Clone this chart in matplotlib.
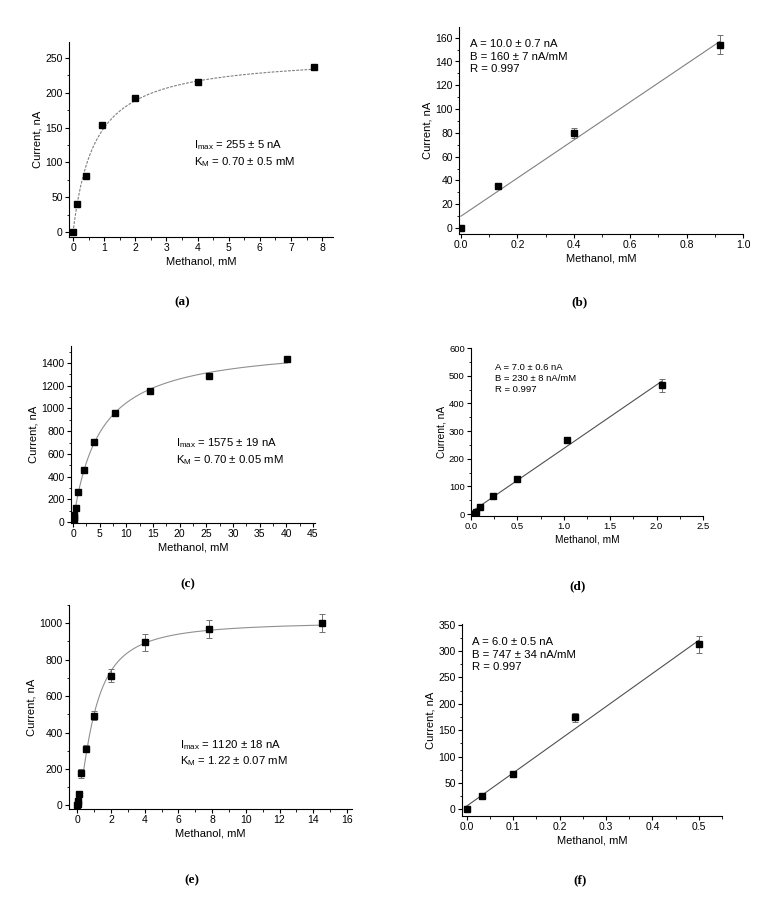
import numpy as np
import matplotlib
matplotlib.use("Agg")
import matplotlib.pyplot as plt
from matplotlib.ticker import MultipleLocator

plt.rcParams['font.family'] = ['Liberation Sans', 'DejaVu Sans']
plt.rcParams['mathtext.default'] = 'regular'

# (a) saturation curve
a_x = [0, 0.13, 0.4, 0.92, 2.0, 4.0, 7.75]
a_y = [0, 40, 80, 154, 193, 215, 237]
a_imax, a_km = 255, 0.70

# (b) linear range
b_x = [0, 0.133, 0.4, 0.92]
b_y = [0, 35, 80, 154]
b_err = [0, 2, 4, 8]
b_a, b_b = 10.0, 160

# (c) saturation curve
c_x = [0.02, 0.07, 0.15, 0.25, 0.5, 1.0, 2.0, 4.0, 7.8, 14.5, 25.5, 40.2]
c_y = [10, 20, 40, 62, 120, 268, 462, 708, 962, 1150, 1285, 1435]
c_imax, c_km_fit = 1575, 5.0

# (d) linear range
d_x = [0, 0.05, 0.1, 0.24, 0.5, 1.03, 2.06]
d_y = [2, 8, 27, 65, 125, 268, 465]
d_err = [1, 2, 3, 4, 3, 12, 24]
d_a, d_b = 7.0, 230

# (e) saturation curve
e_x = [0, 0.01, 0.05, 0.1, 0.22, 0.5, 1.0, 2.0, 4.0, 7.8, 14.5]
e_y = [0, 10, 25, 65, 176, 312, 492, 712, 895, 970, 1002]
e_err = [0, 3, 5, 5, 25, 18, 25, 35, 45, 50, 50]
e_imax_fit, e_k_fit, e_n_fit = 1010, 1.0, 1.45

# (f) linear range
f_x = [0, 0.033, 0.1, 0.233, 0.5]
f_y = [0, 25, 67, 174, 313]
f_err = [0, 2, 3, 9, 16]
f_a, f_b_fit = 6.0, 628


def style(ax, xlim, ylim, xmaj, xmin, ymaj, ymin, fs=7.5):
    ax.set_xlim(*xlim)
    ax.set_ylim(*ylim)
    ax.xaxis.set_major_locator(MultipleLocator(xmaj))
    ax.xaxis.set_minor_locator(MultipleLocator(xmin))
    ax.yaxis.set_major_locator(MultipleLocator(ymaj))
    ax.yaxis.set_minor_locator(MultipleLocator(ymin))
    ax.spines['top'].set_visible(False)
    ax.spines['right'].set_visible(False)
    for s in ['left', 'bottom']:
        ax.spines[s].set_linewidth(0.8)
    ax.tick_params(which='major', direction='out', length=3, width=0.8,
                   labelsize=fs, pad=1.5)
    ax.tick_params(which='minor', direction='out', length=1.8, width=0.6)
    ax.set_xlabel('Methanol, mM', fontsize=fs + 0.5, labelpad=2)
    ax.set_ylabel('Current, nA', fontsize=fs + 0.5, labelpad=2)


fig = plt.figure(figsize=(7.78, 8.97), dpi=100)
W, H = 778, 897


def add_axes(x0, x1, y0, y1):
    return fig.add_axes([x0 / W, 1 - y1 / H, (x1 - x0) / W, (y1 - y0) / H])


mk = dict(marker='s', color='black', markersize=4.8, linestyle='none', zorder=3)
eb = dict(ecolor='#707070', elinewidth=0.7, capsize=2, capthick=0.7)

# (a)
ax = add_axes(69, 333, 42, 237)
xs = np.linspace(0, a_x[-1], 200)
ax.plot(xs, a_imax * xs / (a_km + xs), color='#808080', lw=0.8, ls=(0, (2.5, 1.2)))
ax.plot(a_x, a_y, **mk)
style(ax, (-0.13, 8.35), (-7, 273), 1, 0.5, 50, 25)
ax.text(3.9, 113, 'I$_{max}$ = 255 ± 5 nA\nK$_{M}$ = 0.70 ± 0.5 mM',
        fontsize=8.2, va='center', linespacing=1.3)

# (b)
ax = add_axes(459, 743, 27, 234)
xs = np.array([0, b_x[-1]])
ax.plot(xs, b_a + b_b * xs, color='#808080', lw=0.8)
ax.errorbar(b_x, b_y, yerr=b_err, **mk, **eb)
style(ax, (-0.007, 1.0), (-5, 169), 0.2, 0.1, 20, 10)
ax.text(0.032, 144, 'A = 10.0 ± 0.7 nA\nB = 160 ± 7 nA/mM\nR = 0.997',
        fontsize=8.2, va='center', linespacing=1.3)

# (c)
ax = add_axes(71, 315, 346, 523)
xs = np.linspace(0, c_x[-1], 300)
ax.plot(xs, c_imax * xs / (c_km_fit + xs), color='#909090', lw=0.8)
ax.plot(c_x, c_y, **mk)
style(ax, (-0.4, 45.4), (-9, 1550), 5, 2.5, 200, 100)
ax.text(19.3, 620, 'I$_{max}$ = 1575 ± 19 nA\nK$_{M}$ = 0.70 ± 0.05 mM',
        fontsize=8.2, va='center', linespacing=1.3)

# (d)
ax = add_axes(471, 703, 348, 516)
xs = np.array([0, d_x[-1]])
ax.plot(xs, d_a + d_b * xs, color='#505050', lw=0.8)
ax.errorbar(d_x, d_y, yerr=d_err, **mk, **eb)
style(ax, (0, 2.5), (-7, 600), 0.5, 0.25, 100, 50, fs=6.8)
ax.text(0.26, 490, 'A = 7.0 ± 0.6 nA\nB = 230 ± 8 nA/mM\nR = 0.997',
        fontsize=6.8, va='center', linespacing=1.3)

# (e)
ax = add_axes(69, 352, 605, 809)
xs = np.linspace(0.35, e_x[-1], 300)
ax.plot(xs, e_imax_fit * xs ** e_n_fit / (e_k_fit ** e_n_fit + xs ** e_n_fit),
        color='#909090', lw=0.8)
ax.errorbar(e_x, e_y, yerr=e_err, **mk, **eb)
style(ax, (-0.5, 16.3), (-20, 1100), 2, 1, 200, 100)
ax.text(6.1, 287, 'I$_{max}$ = 1120 ± 18 nA\nK$_{M}$ = 1.22 ± 0.07 mM',
        fontsize=8.2, va='center', linespacing=1.3)

# (f)
ax = add_axes(462, 722, 624, 816)
xs = np.array([0, f_x[-1]])
ax.plot(xs, f_a + f_b_fit * xs, color='#505050', lw=0.8)
ax.errorbar(f_x, f_y, yerr=f_err, **mk, **eb)
style(ax, (-0.01, 0.55), (-12.7, 351), 0.1, 0.05, 50, 25)
ax.text(0.011, 293, 'A = 6.0 ± 0.5 nA\nB = 747 ± 34 nA/mM\nR = 0.997',
        fontsize=8.2, va='center', linespacing=1.3)

# panel captions
for lab, x, y in [('(a)', 182, 302), ('(b)', 580, 302), ('(c)', 188, 584),
                  ('(d)', 578, 586), ('(e)', 192, 880), ('(f)', 580, 880)]:
    fig.text(x / W, 1 - y / H, lab, ha='center', va='center', fontsize=9.5,
             family='Liberation Serif', weight='bold')

fig.savefig('out.png', dpi=100)
